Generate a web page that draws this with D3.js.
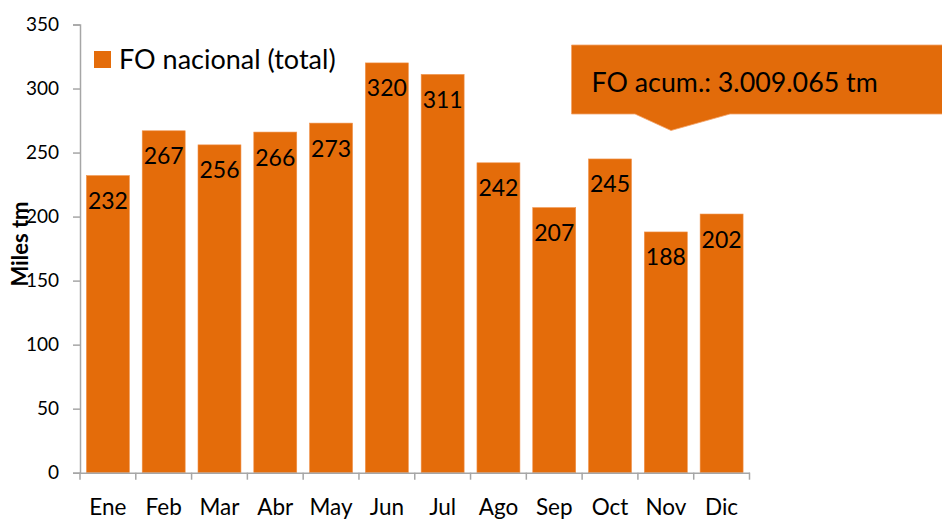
<!DOCTYPE html>
<html><head><meta charset="utf-8">
<script src="https://cdn.jsdelivr.net/npm/d3@7"></script>
<style>body{margin:0;background:#fff}svg{display:block}text{font-family:Lato,"Open Sans",sans-serif}</style>
</head><body>
<svg id="c" width="942" height="519"></svg>
<script>
const categories = ["Ene","Feb","Mar","Abr","May","Jun","Jul","Ago","Sep","Oct","Nov","Dic"];
const values = [232,267,256,266,273,320,311,242,207,245,188,202];
const yTicks = [0,50,100,150,200,250,300,350];
const seriesName = "FO nacional (total)";
const yTitle = "Miles tm";
const calloutText = "FO acum.: 3.009.065 tm";

(function(){
const orange = "#E46C0A";
const svg = d3.select("#c");
const pL = 80, pR = 749.5, pT = 24.5, pB = 472.7;

const x = d3.scaleBand().domain(categories).range([pL, pR]).paddingInner(0.23).paddingOuter(0.115);
const xb = d3.scaleBand().domain(categories).range([pL, pR]);
const y = d3.scaleLinear().domain([0,350]).range([pB, pT]);

// bars
svg.append("g").selectAll("rect").data(values).join("rect")
  .attr("x", (d,i)=>x(categories[i])).attr("width", x.bandwidth())
  .attr("y", d=>y(d)).attr("height", d=>y(0)-y(d))
  .attr("fill", orange).attr("stroke","#F0924A").attr("stroke-width",0.6);

// value labels
svg.append("g").selectAll("text").data(values).join("text")
  .attr("x", (d,i)=>x(categories[i]) + x.bandwidth()/2)
  .attr("y", d=>y(d)+33.5)
  .attr("text-anchor","middle").attr("font-size",23).attr("fill","#000")
  .text(d=>d);

// y axis
const ya = d3.axisLeft(y).tickValues(yTicks).tickSize(7).tickPadding(14).tickFormat(d3.format("d"));
const gy = svg.append("g").attr("transform",`translate(${pL},0)`).call(ya);
gy.select(".domain").attr("stroke","#A6A6A6").attr("stroke-width",1.5);
gy.selectAll(".tick line").attr("stroke","#A6A6A6").attr("stroke-width",1.5);
gy.selectAll(".tick text").attr("font-size",19).attr("fill","#000").attr("font-family","Lato");

// x axis
const xa = d3.axisBottom(xb).tickSize(0).tickPadding(0);
const gx = svg.append("g").attr("transform",`translate(0,${pB})`).call(xa);
gx.select(".domain").attr("stroke","#A6A6A6").attr("stroke-width",1.5);
gx.selectAll(".tick text").attr("font-size",22.5).attr("fill","#000").attr("font-family","Lato").attr("dy",null).attr("y",42);
const bounds = categories.map(c=>xb(c)).concat([pR]);
gx.selectAll("line.bt").data(bounds).join("line").attr("class","bt")
  .attr("x1",d=>d).attr("x2",d=>d).attr("y1",0).attr("y2",7)
  .attr("stroke","#A6A6A6").attr("stroke-width",1.5);

// y title
svg.append("text").attr("transform","translate(28,244) rotate(-90)")
  .attr("text-anchor","middle").attr("font-size",22).attr("font-weight","bold").attr("fill","#000")
  .text(yTitle);

// legend
svg.append("rect").attr("x",94).attr("y",51).attr("width",17).attr("height",17).attr("fill",orange);
svg.append("text").attr("x",119).attr("y",68.5).attr("font-size",27).attr("fill","#000").text(seriesName);

// callout
const cx0 = 571.5, cx1 = 945, cy0 = 45, cy1 = 114;
svg.append("path")
  .attr("d",`M${cx0},${cy0}H${cx1}V${cy1}H730L671,130.5L635,${cy1}H${cx0}Z`)
  .attr("fill","#E26B0A").attr("stroke","#F2A36A").attr("stroke-width",0.8);
svg.append("text").attr("x",591.5).attr("y",92).attr("font-size",26.8).attr("fill","#000").text(calloutText);
})();
</script>
</body></html>
